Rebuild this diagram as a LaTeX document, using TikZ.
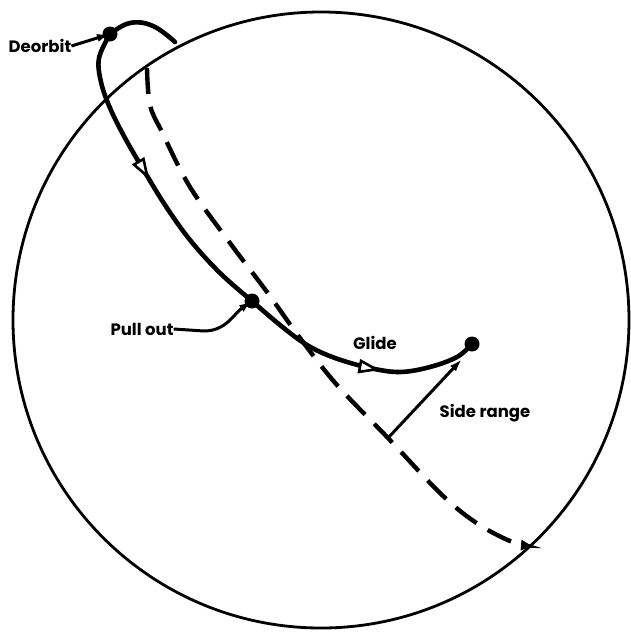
\documentclass[tikz,border=0pt]{standalone}
\usepackage{fontspec}
\setmainfont{Poppins}
\usetikzlibrary{arrows.meta,decorations.markings}
\begin{document}
\begin{tikzpicture}[x=1pt,y=-1pt,
  traj/.style={line width=4.6pt, line cap=round, line join=round},
  dashtraj/.style={line width=4.4pt, dash pattern=on 26pt off 13pt},
  leader/.style={line width=3pt, -{Latex[length=13pt,width=8pt]}},
  lab/.style={font=\bfseries\fontsize{16.5}{19}\selectfont, inner sep=0pt},
  dot/.style={circle, fill=black, minimum size=15pt, inner sep=0pt},
  dirmark/.style={postaction=decorate, decoration={markings,
     mark=at position #1 with {\arrow[line width=2.6pt]{Triangle[open,fill=white,length=22pt,width=14pt]}}}}
]
\useasboundingbox (0,0) rectangle (630,635);
% globe
\draw[line width=2.8pt] (321,320) circle[radius=308pt];
% ballistic (dashed) path
\draw[dashtraj, -{Triangle[length=11pt,width=10pt]}] plot[smooth, tension=0.6] coordinates
  {(147,68) (150,105) (162,132) (190,187) (230,243) (267,292) (300,338) (337,385) (388,438) (440,493) (475,522) (510,541) (532,546)};
% key points
\node[dot] (deo) at (110,34) {};
\node[dot] (pull) at (252,301) {};
\node[dot] (fin) at (472,344) {};
\coordinate (sr) at (388,438);
\coordinate (srtip) at (462,359);
% solid trajectory
\draw[traj] plot[smooth, tension=0.7] coordinates {(175,42) (153,26) (130,23) (110,34)};
\draw[traj, dirmark=0.5] plot[smooth, tension=0.6] coordinates
  {(110,34) (99,58) (101,82) (110,108) (125,138) (143,169) (165,205) (190,240) (220,273) (252,301)};
\draw[traj, dirmark=0.6] plot[smooth, tension=0.6] coordinates
  {(252,301) (280,325) (307,345) (335,358) (370,368) (400,372) (430,367) (457,357) (472,344)};
% labels
\node[lab] (deol) at (40,46) {Deorbit};
\node[lab] (pulll) at (142,329) {Pull out};
\node[lab] (glide) at (375,343) {Glide};
\node[lab] (side) at (485,413) {Side range};
% leaders
\draw[leader] (deol.east) -- (deo.center);
\draw[leader] (pulll.east) -- (204,331) to[out=0,in=215] (pull.center);
\draw[leader] (sr) -- (srtip);
\end{tikzpicture}
\end{document}
